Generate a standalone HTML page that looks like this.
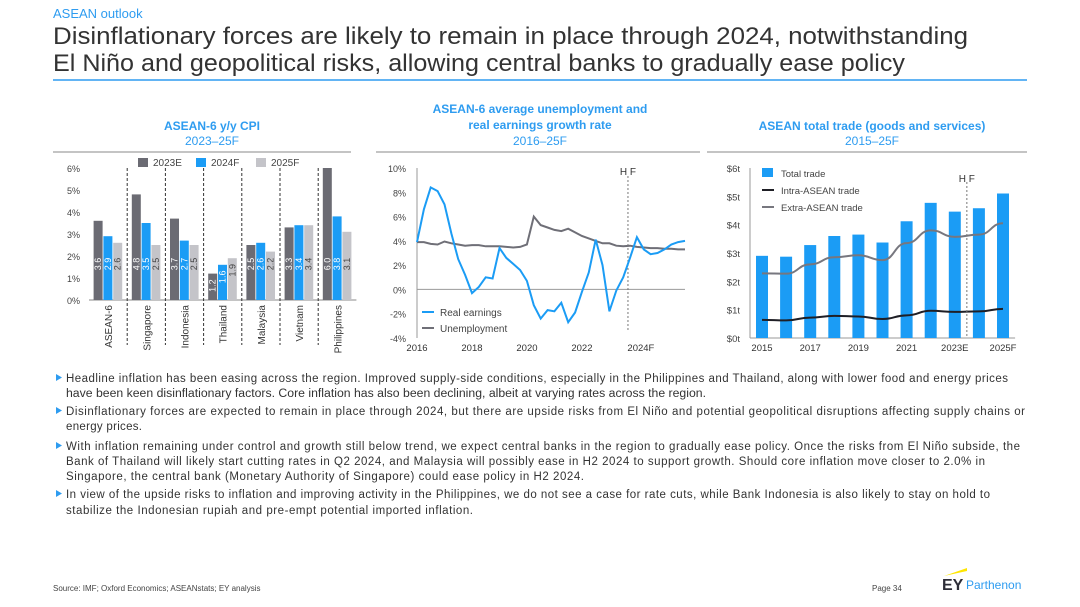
<!DOCTYPE html>
<html><head><meta charset="utf-8"><style>
html,body{margin:0;padding:0;background:#fff;}
svg{display:block;font-family:"Liberation Sans",sans-serif;}
</style></head><body>
<svg id="page" width="1080" height="607" viewBox="0 0 1080 607" xmlns="http://www.w3.org/2000/svg">
<text x="53" y="18" font-size="13" fill="#2e9cf0">ASEAN outlook</text>
<text x="53" y="44" font-size="24" fill="#333" textLength="915" lengthAdjust="spacingAndGlyphs">Disinflationary forces are likely to remain in place through 2024, notwithstanding</text>
<text x="53" y="71" font-size="24" fill="#333" textLength="852" lengthAdjust="spacingAndGlyphs">El Niño and geopolitical risks, allowing central banks to gradually ease policy</text>
<line x1="53" y1="80" x2="1027" y2="80" stroke="#2e9cf0" stroke-width="1.5"/>

<g font-size="12" fill="#2e9cf0" text-anchor="middle">
<text x="212" y="130" font-weight="bold">ASEAN-6 y/y CPI</text>
<text x="212" y="145">2023–25F</text></g>
<g font-size="12" fill="#2e9cf0" text-anchor="middle">
<text x="540" y="113" font-weight="bold">ASEAN-6 average unemployment  and</text>
<text x="540" y="129" font-weight="bold">real earnings growth rate</text>
<text x="540" y="145">2016–25F</text></g>
<g font-size="12" fill="#2e9cf0" text-anchor="middle">
<text x="872" y="130" font-weight="bold">ASEAN total trade (goods and services)</text>
<text x="872" y="145">2015–25F</text></g>
<line x1="53" y1="152" x2="351" y2="152" stroke="#888"/>
<line x1="376" y1="152" x2="700" y2="152" stroke="#888"/>
<line x1="707" y1="152" x2="1027" y2="152" stroke="#888"/>

<g id="c1"></g><g id="c2"></g><g id="c3"></g>

<g font-size="11.5" fill="#333">
<g fill="#2e9cf0">
<path d="M56,374 l6,3.5 l-6,3.5z"/><path d="M56,407 l6,3.5 l-6,3.5z"/><path d="M56,442 l6,3.5 l-6,3.5z"/><path d="M56,490 l6,3.5 l-6,3.5z"/></g>
<text x="66" y="382" textLength="942" lengthAdjust="spacing">Headline inflation has been easing across the region. Improved supply-side conditions, especially in the Philippines and Thailand, along with lower food and energy prices</text>
<text x="66" y="397" textLength="640" lengthAdjust="spacingAndGlyphs">have been keen disinflationary factors. Core inflation has also been declining, albeit at varying rates across the region.</text>
<text x="66" y="415" textLength="959" lengthAdjust="spacing">Disinflationary forces are expected to remain in place through 2024, but there are upside risks from El Niño and potential geopolitical disruptions affecting supply chains or</text>
<text x="66" y="430" textLength="76" lengthAdjust="spacing">energy prices.</text>
<text x="66" y="450" textLength="954" lengthAdjust="spacing">With inflation remaining under control and growth still below trend, we expect central banks in the region to gradually ease policy. Once the risks from El Niño subside, the</text>
<text x="66" y="465" textLength="919" lengthAdjust="spacing">Bank of Thailand will likely start cutting rates in Q2 2024, and Malaysia will possibly ease in H2 2024 to support growth. Should core inflation move closer to 2.0% in</text>
<text x="66" y="480" textLength="518" lengthAdjust="spacing">Singapore, the central bank (Monetary Authority of Singapore) could ease policy in H2 2024.</text>
<text x="66" y="498" textLength="924" lengthAdjust="spacing">In view of the upside risks to inflation and improving activity in the Philippines, we do not see a case for rate cuts, while Bank Indonesia is also likely to stay on hold to</text>
<text x="66" y="514" textLength="407" lengthAdjust="spacing">stabilize the Indonesian rupiah and pre-empt potential imported inflation.</text>
</g>
<text x="53" y="591" font-size="8" fill="#444">Source: IMF; Oxford Economics; ASEANstats; EY analysis</text>
<text x="872" y="591" font-size="8" fill="#444">Page 34</text>
<g>
<path d="M944,576 L967,568 L967,571 Z" fill="#ffe600"/>
<text x="942" y="590" font-size="16" font-weight="bold" fill="#2e2e38">EY</text>
<text x="966" y="589" font-size="12" fill="#2e9cf0">Parthenon</text></g>
</svg>
<script>
const NS='http://www.w3.org/2000/svg';
function mk(p,tag,a,txt){const e=document.createElementNS(NS,tag);for(const k in a)e.setAttribute(k,a[k]);if(txt!==undefined)e.textContent=txt;p.appendChild(e);return e;}

// ---- Chart 1 data ----
const cpiCountries=['ASEAN-6','Singapore','Indonesia','Thailand','Malaysia','Vietnam','Philippines'];
const cpi2023=[3.6,4.8,3.7,1.2,2.5,3.3,6.0];
const cpi2024=[2.9,3.5,2.7,1.6,2.6,3.4,3.8];
const cpi2025=[2.6,2.5,2.5,1.9,2.2,3.4,3.1];
const cpiTicks=[0,1,2,3,4,5,6];
const cpiSeriesNames=['2023E','2024F','2025F'];

// ---- Chart 2 data (quarterly 2016Q1–2025Q4) ----
const earnings=[3.9,6.6,8.4,8.1,7.0,4.6,2.5,1.2,-0.3,0.2,1.0,0.9,3.4,2.6,2.1,1.6,0.7,-1.3,-2.4,-1.7,-1.8,-1.1,-2.7,-1.9,-0.2,1.4,4.1,2.0,-1.8,-0.1,1.0,2.6,4.3,3.3,2.9,3.0,3.3,3.7,3.9,4.0];
const unemployment=[3.9,3.9,3.75,3.7,3.95,3.8,3.7,3.6,3.65,3.65,3.55,3.55,3.55,3.5,3.45,3.5,3.7,6.0,5.3,5.1,4.9,4.8,5.0,4.7,4.4,4.2,4.0,3.8,3.8,3.6,3.55,3.6,3.5,3.45,3.4,3.4,3.35,3.35,3.3,3.3];
const unempTicks=[-4,-2,0,2,4,6,8,10];
const unempXLabels=['2016','2018','2020','2022','2024F'];
const unempForecastIndex=30.7;

// ---- Chart 3 data ----
const tradeYears=['2015','2016','2017','2018','2019','2020','2021','2022','2023E','2024F','2025F'];
const totalTrade=[2.9,2.87,3.28,3.6,3.65,3.37,4.12,4.77,4.46,4.58,5.1];
const extraTrade=[2.28,2.27,2.6,2.85,2.92,2.75,3.35,3.8,3.57,3.65,4.05];
const intraTrade=[0.64,0.62,0.72,0.78,0.76,0.67,0.8,0.96,0.92,0.94,1.03];
const tradeTicks=[0,1,2,3,4,5,6];
const tradeForecastPos=8.5;

const DARK='#6b6b73',BLUE='#1b9cf5',LIGHT='#c4c4c9';

// Chart 1
(function(){
 const g=document.getElementById('c1');
 
 const x0=89,gw=38.2,yB=300,yT=168,ymax=6;
 const y=v=>yB-(v/ymax)*(yB-yT);
 cpiTicks.forEach(t=>{const e=mk(g,'text',{x:80,y:y(t)+4,'font-size':9,fill:'#444','text-anchor':'end'},t+'%');
  });
 const ax=mk(g,'line',{x1:x0,y1:yB,x2:x0+gw*7,y2:yB,stroke:'#888'});
 
 const series=[cpi2023,cpi2024,cpi2025],cols=[DARK,BLUE,LIGHT],tcol=['#fff','#fff','#444'];
 cpiCountries.forEach((c,i)=>{
  const gx=x0+i*gw,cx=gx+gw/2;
  if(i>0){const d=mk(g,'line',{x1:gx,y1:168,x2:gx,y2:345,stroke:'#333','stroke-dasharray':'3,2'});
   }
  series.forEach((s,j)=>{
   const bx=cx-14.5+j*9.8,top=y(s[i]);
   const r=mk(g,'rect',{x:bx,y:top,width:9,height:yB-top,fill:cols[j]});
   
   const ly=Math.max(264,top+12),lx=bx+4.5;
   const t=mk(g,'text',{x:lx,y:ly,'font-size':9,fill:tcol[j],'text-anchor':'middle',transform:`rotate(-90 ${lx} ${ly}) translate(0 3)`},s[i].toFixed(1));
   
  });
  const lt=mk(g,'text',{x:cx,y:305,'font-size':10,fill:'#333','text-anchor':'end',transform:`rotate(-90 ${cx} 305) translate(0 4)`},c);
  
 });
 const lx=[138,196,256];
 cpiSeriesNames.forEach((n,j)=>{
  const r=mk(g,'rect',{x:lx[j],y:158,width:10,height:9,fill:cols[j]});
  
  const t=mk(g,'text',{x:lx[j]+15,y:166,'font-size':10,fill:'#444'},n);
  
 });
})();

// Chart 2
(function(){
 const g=document.getElementById('c2');
 
 const xL=417,xR=685,yT=168,yB=338,vmin=-4,vmax=10,n=earnings.length;
 const x=i=>xL+i*(xR-xL)/(n-1);
 const y=v=>yB-(v-vmin)/(vmax-vmin)*(yB-yT);
 unempTicks.forEach(t=>{const e=mk(g,'text',{x:406,y:y(t)+4,'font-size':9,fill:'#444','text-anchor':'end'},t+'%');
  });
 const ya=mk(g,'line',{x1:xL,y1:yT,x2:xL,y2:yB,stroke:'#999'});
 const za=mk(g,'line',{x1:xL,y1:y(0),x2:xR,y2:y(0),stroke:'#999'});
 unempXLabels.forEach((l,k)=>{const e=mk(g,'text',{x:x(k*8)+(k==4?4:0),y:351,'font-size':9.5,fill:'#333','text-anchor':'middle'},l);
  });
 const fx=x(unempForecastIndex);
 const d=mk(g,'line',{x1:fx,y1:176,x2:fx,y2:330,stroke:'#777','stroke-dasharray':'2,2'});
 const hf=mk(g,'text',{x:fx,y:175,'font-size':10,fill:'#333','text-anchor':'middle'},'H F');
 const pts=s=>s.map((v,i)=>x(i).toFixed(1)+','+y(v).toFixed(1)).join(' ');
 const u=mk(g,'polyline',{points:pts(unemployment),fill:'none',stroke:'#6f6f77','stroke-width':2});
 const e=mk(g,'polyline',{points:pts(earnings),fill:'none',stroke:BLUE,'stroke-width':2});
 [['Real earnings',BLUE,312],['Unemployment','#6f6f77',328]].forEach(([n,c,yy])=>{
  const l=mk(g,'line',{x1:422,y1:yy,x2:434,y2:yy,stroke:c,'stroke-width':2});
  const t=mk(g,'text',{x:440,y:yy+4,'font-size':10,fill:'#444'},n);
 });
})();

// Chart 3
(function(){
 const g=document.getElementById('c3');
 
 const x0=750,step=24.1,yB=338,yT=168,vmax=6;
 const cx=i=>x0+12+i*step;
 const y=v=>yB-v/vmax*(yB-yT);
 tradeTicks.forEach(t=>{const e=mk(g,'text',{x:740,y:y(t)+4,'font-size':9.5,fill:'#444','text-anchor':'end'},'$'+t+'t');
  });
 const ya=mk(g,'line',{x1:x0,y1:yT,x2:x0,y2:yB,stroke:'#999'});
 const xa=mk(g,'line',{x1:x0,y1:yB,x2:x0+11*step,y2:yB,stroke:'#999'});
 totalTrade.forEach((v,i)=>{const r=mk(g,'rect',{x:cx(i)-6,y:y(v),width:12,height:yB-y(v),fill:BLUE});
  });
 tradeYears.forEach((l,i)=>{if(i%2)return;const e=mk(g,'text',{x:cx(i),y:351,'font-size':9.5,fill:'#333','text-anchor':'middle'},l);
  });
 const smooth=s=>{let p='M'+cx(0)+','+y(s[0]);for(let i=1;i<s.length;i++){const xm=(cx(i-1)+cx(i))/2;p+=` C${xm},${y(s[i-1])} ${xm},${y(s[i])} ${cx(i)},${y(s[i])}`;}return p;};
 const ex=mk(g,'path',{d:smooth(extraTrade),fill:'none',stroke:'#77777f','stroke-width':2});
 const inn=mk(g,'path',{d:smooth(intraTrade),fill:'none',stroke:'#1f1f26','stroke-width':2});
 const fx=cx(tradeForecastPos);
 const d=mk(g,'line',{x1:fx,y1:182,x2:fx,y2:338,stroke:'#777','stroke-dasharray':'2,2'});
 const hf=mk(g,'text',{x:fx,y:182,'font-size':10,fill:'#333','text-anchor':'middle'},'H F');
 const s1=mk(g,'rect',{x:762,y:168,width:11,height:9,fill:BLUE});
 [['Total trade',177],['Intra-ASEAN trade',194],['Extra-ASEAN trade',211]].forEach(([n,yy],k)=>{
  if(k>0){const l=mk(g,'line',{x1:762,y1:yy-4,x2:774,y2:yy-4,stroke:k==1?'#1f1f26':'#77777f','stroke-width':2});}
  const t=mk(g,'text',{x:781,y:yy,'font-size':9.5,fill:'#444'},n);
 });
})();
</script>
</body></html>
